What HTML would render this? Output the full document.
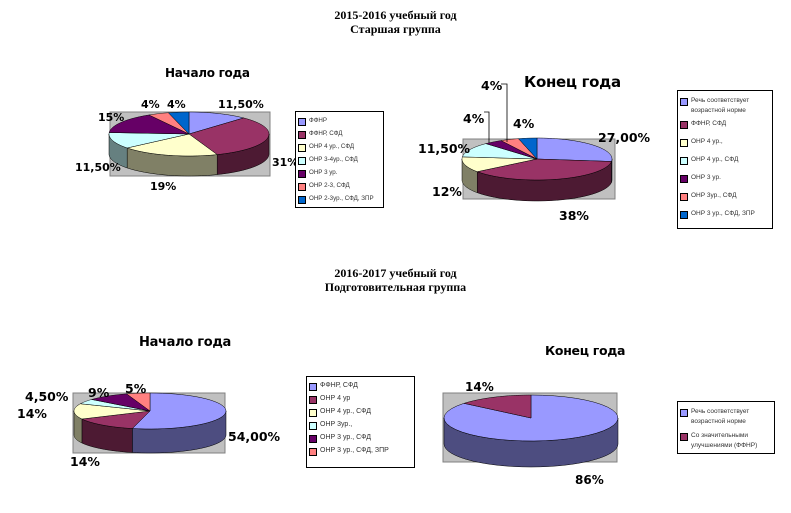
<!DOCTYPE html>
<html><head><meta charset="utf-8">
<style>
body{margin:0;background:#fff;width:791px;height:513px;overflow:hidden;position:relative;font-family:"Liberation Sans",sans-serif}
.t{position:absolute;font-family:"Liberation Serif",serif;font-weight:bold;font-size:12px;text-align:center;width:791px;left:0;line-height:14px}
.ct{position:absolute;font-weight:bold;font-family:"DejaVu Sans",sans-serif;letter-spacing:-0.3px}
.lg{position:absolute;border:1px solid #000;background:#fff;font-size:6.5px;color:#333;box-sizing:border-box;padding:3px 2px;white-space:nowrap}
.li{display:flex;align-items:flex-start;line-height:10px}
.sw{width:6px;height:6px;border:1px solid #000;margin:2px 3px 0 0;flex:none}
svg{position:absolute;left:0;top:0}
.pl{font-family:"DejaVu Sans",sans-serif;font-weight:bold}
</style></head><body>
<div class="t" style="top:8px">2015-2016 учебный год<br>Старшая группа</div>
<div class="t" style="top:266px">2016-2017 учебный год<br>Подготовительная группа</div>
<div class="ct" style="left:165px;top:66px;font-size:12px">Начало года</div>
<div class="ct" style="left:524px;top:73px;font-size:15px">Конец года</div>
<div class="ct" style="left:139px;top:335px;font-size:13px">Начало года</div>
<div class="ct" style="left:545px;top:343px;font-size:12.5px">Конец года</div>
<svg id="s" width="791" height="513"></svg>

<div class="lg" style="left:295px;top:111px;width:89px;height:97px;padding-top:4px;font-size:6.2px" id="lg1"></div>
<div class="lg" style="left:677px;top:90px;width:96px;height:139px;padding-top:5px;white-space:normal" id="lg2"></div>
<div class="lg" style="left:306px;top:376px;width:109px;height:92px;padding-top:4px;font-size:7px" id="lg3"></div>
<div class="lg" style="left:677px;top:401px;width:98px;height:53px;padding-top:5px;white-space:normal" id="lg4"></div>
<script>
const colors1=["#9999FF","#993366","#FFFFCC","#CCFFFF","#660066","#FF8080","#0066CC"];
const cats1=["ФФНР","ФФНР, СФД","ОНР 4 ур., СФД","ОНР 3-4ур., СФД","ОНР 3 ур.","ОНР 2-3, СФД","ОНР 2-3ур., СФД, ЗПР"];
const vals1=[11.5,31,19,11.5,15,4,4];
const labels1=["11,50%","31%","19%","11,50%","15%","4%","4%"];
const cats2=["Речь соответствует возрастной норме","ФФНР, СФД","ОНР 4 ур.,","ОНР 4 ур., СФД","ОНР 3 ур.","ОНР 3ур., СФД","ОНР 3 ур., СФД, ЗПР"];
const vals2=[27,38,12,11.5,4,4,4];
const labels2=["27,00%","38%","12%","11,50%","4%","4%","4%"];
const cats3=["ФФНР, СФД","ОНР 4 ур","ОНР 4 ур., СФД","ОНР 3ур.,","ОНР 3 ур., СФД","ОНР 3 ур., СФД, ЗПР"];
const vals3=[54,14,14,4.5,9,5];
const labels3=["54,00%","14%","14%","4,50%","9%","5%"];
const cats4=["Речь соответствует возрастной норме","Со значительными улучшениями (ФФНР)"];
const vals4=[86,14];
const labels4=["86%","14%"];

// layout: label anchor points (left x, baseline y)
const lay1=[[218,108],[272,166],[150,190],[75,171],[98,121],[141,108],[167,108]];
const lay2=[[598,142],[559,220],[432,196],[418,153],[463,123],[481,90],[513,128]];
const lay3=[[228,441],[70,466],[17,418],[25,401],[88,397],[125,393]];
const lay4=[[575,484],[465,391]];

const NS="http://www.w3.org/2000/svg";
const svg=document.getElementById('s');
function mk(t,a){const e=document.createElementNS(NS,t);for(const k in a)e.setAttribute(k,a[k]);svg.appendChild(e);return e;}
function dark(c){const n=parseInt(c.slice(1),16);const f=v=>Math.round(v*0.5).toString(16).padStart(2,'0');return '#'+f(n>>16)+f((n>>8)&255)+f(n&255);}
function pie(id,vals,cols,labels,lay,box,cx,cy,rx,ry,d,fs){
  const b=mk('rect',{x:box[0],y:box[1],width:box[2],height:box[3],fill:'#C0C0C0',stroke:'#808080'});
  
  
  const tot=vals.reduce((a,b)=>a+b,0);
  const P=(t,dy)=>[cx+rx*Math.sin(t),cy-ry*Math.cos(t)+(dy||0)];
  let a=0;const segs=vals.map(v=>{const s=a;a+=v/tot*2*Math.PI;return [s,a];});
  segs.forEach((g,i)=>{
    const s=Math.max(g[0],Math.PI/2),e=Math.min(g[1],3*Math.PI/2);
    if(e<=s)return;
    let pts=[];const n=30;
    for(let k=0;k<=n;k++)pts.push(P(s+(e-s)*k/n));
    for(let k=n;k>=0;k--)pts.push(P(s+(e-s)*k/n,d));
    const p=mk('path',{d:'M'+pts.map(q=>q.join(',')).join('L')+'Z',fill:dark(cols[i]),stroke:'#000','stroke-width':0.5});
    
    
  });
  segs.forEach((g,i)=>{
    let pts=[[cx,cy]];const n=40;
    for(let k=0;k<=n;k++)pts.push(P(g[0]+(g[1]-g[0])*k/n));
    const p=mk('path',{d:'M'+pts.map(q=>q.join(',')).join('L')+'Z',fill:cols[i],stroke:'#000','stroke-width':0.5});
    
    
    const t=mk('text',{x:lay[i][0],y:lay[i][1],'class':'pl','font-size':fs});
    t.textContent=labels[i];
    
    
  });
}
pie('chart1',vals1,colors1,labels1,lay1,[110,112,160,64],189,134,80,22,20,11);
pie('chart2',vals2,colors1,labels2,lay2,[463,139,152,60],537,159,75,21,21,12.5);
pie('chart3',vals3,colors1,labels3,lay3,[73,393,152,60],150,411,76,18,24,12.5);
pie('chart4',vals4,["#9999FF","#993366"],labels4,lay4,[443,393,174,69],531,418,87,23,26,12);
// leader lines for chart2 small labels
[[501,84,507,84,507,142],[484,112,489,112,489,143]].forEach(l=>{
  const p=mk('polyline',{points:l[0]+','+l[1]+' '+l[2]+','+l[3]+' '+l[4]+','+l[5],fill:'none',stroke:'#000','stroke-width':0.8});
  
  
});
function legend(id,cats,cols){
  const L=document.getElementById(id);
  cats.forEach((c,i)=>{
    const r=document.createElement('div');r.className='li';
    
    
    r.style.marginBottom=(id==='lg4'?'4px':(id==='lg2'?(i==0?'3px':'8px'):'3px'));
    r.innerHTML='<span class="sw" style="background:'+cols[i]+'"></span><span>'+c+'</span>';
    L.appendChild(r);
  });
}
legend('lg1',cats1,colors1);legend('lg2',cats2,colors1);legend('lg3',cats3,colors1);legend('lg4',cats4,["#9999FF","#993366"]);
</script>
</body></html>
